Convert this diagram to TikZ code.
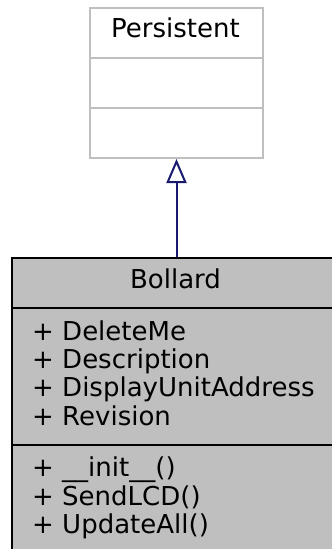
\documentclass[tikz,border=0pt]{standalone}
\usepackage{fontspec}
\setmainfont{DejaVu Sans}
\usetikzlibrary{arrows.meta}
\definecolor{boxgray}{HTML}{BFBFBF}
\definecolor{edgegray}{HTML}{BFBFBF}
\definecolor{navyline}{HTML}{191970}
\begin{document}
\begin{tikzpicture}[x=1pt,y=-1pt,
  every node/.style={font=\fontsize{26}{28.3}\selectfont, inner sep=0pt},
  persbox/.style={draw=edgegray, line width=2pt, fill=white, anchor=north west},
  classbox/.style={draw=black, line width=2pt, fill=boxgray, anchor=north west},
  member/.style={anchor=base west, align=left},
  inherit/.style={draw=navyline, line width=2pt, -{Triangle[open, length=24pt, width=20pt, line width=2pt]}}
]
\useasboundingbox (0,0) rectangle (332,549);
\clip (0,0) rectangle (332,549);
% Persistent
\node[persbox, minimum width=173pt, minimum height=150pt] (pers) at (89,7) {};
\draw[edgegray, line width=2pt] (89,58) -- (262,58);
\draw[edgegray, line width=2pt] (89,108) -- (262,108);
\node[anchor=base] (perstitle) at (175.5,37) {Persistent};
% Bollard
\node[classbox, minimum width=330pt, minimum height=300pt] (boll) at (11,257) {};
\draw[black, line width=2pt] (11,308) -- (340,308);
\draw[black, line width=2pt] (11,445) -- (340,445);
\node[anchor=base] (bolltitle) at (175.5,288) {Bollard};
% base anchor of a multi-line node is the baseline of its last line
\node[member] (attrs) at (32,425) {+ DeleteMe\\+ Description\\+ DisplayUnitAddress\\+ Revision};
\node[member] (meths) at (32,533.5) {+ \_\_init\_\_()\\+ SendLCD()\\+ UpdateAll()};
% inheritance
\draw[inherit] (pers.south |- boll.north) -- (pers.south);
\end{tikzpicture}
\end{document}
